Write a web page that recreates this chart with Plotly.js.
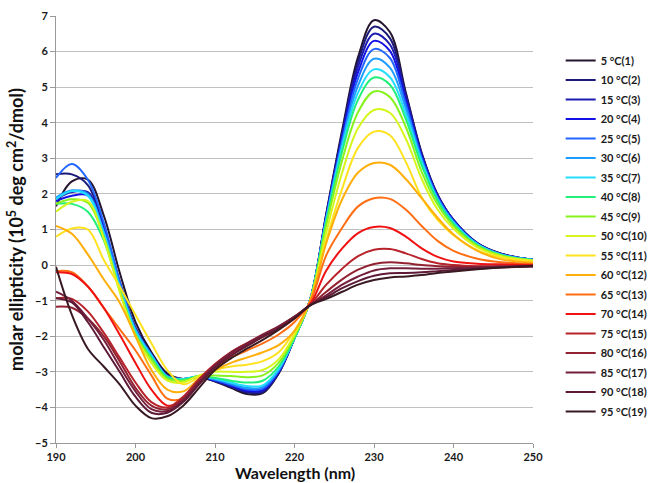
<!DOCTYPE html>
<html>
<head>
<meta charset="utf-8">
<script src="https://cdn.plot.ly/plotly-3.0.1.min.js"></script>
<style>html,body{margin:0;padding:0;background:#fff}#chart{width:650px;height:483px}</style>
</head>
<body>
<div id="chart"></div>
<script>
// Wavelength grid (nm)
var wavelength = [190,192,194,196,198,200,202,204,206,208,210,212,214,216,218,220,222,224,226,228,230,232,234,236,238,240,243,246,250];

// Molar ellipticity (10^5 deg cm^2/dmol) per temperature
var t05 = [1.65,2.35,2.4,1.4,-0.2,-1.6,-2.45,-3.05,-3.2,-3.15,-3.27,-3.45,-3.62,-3.6,-3.05,-2.05,-0.95,1.45,3.8,5.85,6.88,6.55,4.85,3.15,1.98,1.27,0.62,0.32,0.15];
var t10 = [2.55,2.55,2.25,1.1,-0.45,-1.75,-2.5,-3.1,-3.2,-3.15,-3.26,-3.42,-3.58,-3.57,-3.03,-2.05,-0.95,1.42,3.72,5.72,6.7,6.38,4.8,3.13,1.97,1.27,0.62,0.32,0.15];
var t15 = [1.85,2.05,2.05,1.05,-0.5,-1.8,-2.52,-3.12,-3.2,-3.14,-3.25,-3.4,-3.55,-3.54,-3.02,-2.05,-0.95,1.4,3.65,5.58,6.5,6.2,4.72,3.1,1.95,1.26,0.61,0.31,0.15];
var t20 = [1.8,1.95,1.95,1.0,-0.5,-1.8,-2.52,-3.12,-3.2,-3.14,-3.24,-3.38,-3.52,-3.5,-3.0,-2.05,-0.95,1.37,3.57,5.42,6.3,6.02,4.62,3.05,1.93,1.25,0.6,0.3,0.15];
var t25 = [2.45,2.84,2.4,1.2,-0.45,-1.8,-2.52,-3.12,-3.2,-3.14,-3.23,-3.36,-3.49,-3.47,-2.98,-2.05,-0.95,1.33,3.5,5.25,6.07,5.82,4.52,3.0,1.9,1.23,0.6,0.3,0.15];
var t30 = [1.9,2.1,2.0,0.95,-0.55,-1.82,-2.53,-3.13,-3.2,-3.13,-3.21,-3.33,-3.45,-3.43,-2.95,-2.05,-0.95,1.3,3.42,5.05,5.8,5.55,4.4,2.95,1.87,1.21,0.59,0.3,0.15];
var t35 = [1.85,2.08,1.95,0.9,-0.6,-1.85,-2.55,-3.14,-3.2,-3.12,-3.19,-3.3,-3.4,-3.38,-2.92,-2.05,-0.95,1.27,3.33,4.85,5.5,5.28,4.25,2.9,1.84,1.19,0.58,0.29,0.14];
var t40 = [1.72,1.72,1.5,0.7,-0.7,-1.95,-2.6,-3.15,-3.22,-3.12,-3.17,-3.25,-3.3,-3.25,-2.85,-2.05,-0.96,1.22,3.2,4.65,5.27,5.07,4.1,2.8,1.8,1.16,0.56,0.28,0.14];
var t45 = [1.72,1.85,1.75,0.8,-0.7,-1.95,-2.65,-3.2,-3.25,-3.12,-3.1,-3.12,-3.15,-3.1,-2.75,-2.0,-0.97,1.12,2.95,4.3,4.88,4.72,3.88,2.62,1.7,1.1,0.54,0.27,0.13];
var t50 = [1.5,1.78,1.8,0.75,-0.75,-2.0,-2.75,-3.25,-3.3,-3.1,-3.0,-3.0,-3.0,-2.95,-2.65,-1.95,-0.98,0.92,2.6,3.85,4.36,4.28,3.55,2.42,1.56,1.02,0.5,0.25,0.12];
var t55 = [0.8,1.03,1.0,0.15,-0.6,-1.4,-2.2,-2.95,-3.35,-3.15,-2.95,-2.85,-2.8,-2.7,-2.45,-1.85,-1.0,0.7,2.15,3.3,3.75,3.65,2.9,1.9,1.27,0.84,0.42,0.21,0.1];
var t60 = [1.1,0.88,0.3,-0.4,-1.05,-2.0,-2.95,-3.5,-3.55,-3.2,-2.95,-2.75,-2.6,-2.45,-2.25,-1.85,-0.98,0.62,1.85,2.6,2.87,2.82,2.42,1.88,1.33,0.86,0.4,0.16,0.07];
var t65 = [-0.17,-0.2,-0.6,-1.2,-1.8,-2.4,-3.1,-3.75,-3.75,-3.3,-2.9,-2.6,-2.4,-2.2,-1.95,-1.6,-1.02,0.28,1.05,1.65,1.88,1.86,1.56,1.1,0.68,0.4,0.18,0.08,0.03];
var t70 = [-0.2,-0.25,-0.6,-1.2,-1.95,-2.75,-3.5,-3.95,-3.8,-3.3,-2.85,-2.5,-2.25,-2.02,-1.8,-1.5,-1.08,-0.15,0.47,0.9,1.07,1.04,0.8,0.47,0.23,0.1,0.04,0.02,0.0];
var t75 = [-0.93,-0.95,-1.3,-1.9,-2.6,-3.3,-3.85,-4.0,-3.7,-3.2,-2.78,-2.45,-2.2,-1.97,-1.75,-1.45,-1.1,-0.55,-0.1,0.25,0.43,0.45,0.33,0.17,0.05,0.0,-0.03,-0.03,-0.02];
var t80 = [-1.17,-1.2,-1.5,-2.0,-2.7,-3.45,-3.95,-4.05,-3.75,-3.25,-2.8,-2.45,-2.2,-1.95,-1.72,-1.45,-1.12,-0.75,-0.4,-0.13,0.03,0.08,0.05,0.0,-0.03,-0.05,-0.05,-0.04,-0.03];
var t85 = [-0.75,-1.0,-1.5,-2.1,-2.85,-3.55,-4.05,-4.1,-3.8,-3.3,-2.82,-2.48,-2.22,-1.97,-1.73,-1.45,-1.12,-0.85,-0.55,-0.32,-0.15,-0.09,-0.09,-0.1,-0.1,-0.09,-0.07,-0.05,-0.03];
var t90 = [-0.93,-1.05,-1.6,-2.3,-3.0,-3.7,-4.15,-4.15,-3.85,-3.35,-2.88,-2.55,-2.28,-2.02,-1.78,-1.48,-1.12,-0.9,-0.65,-0.45,-0.3,-0.23,-0.22,-0.2,-0.17,-0.14,-0.1,-0.07,-0.04];
var t95 = [-0.05,-1.4,-2.35,-2.85,-3.35,-3.95,-4.3,-4.25,-3.95,-3.45,-2.95,-2.62,-2.35,-2.1,-1.82,-1.5,-1.13,-0.95,-0.75,-0.55,-0.42,-0.35,-0.32,-0.28,-0.22,-0.18,-0.12,-0.07,-0.02];

var seriesNames = ["5 °C(1)","10 °C(2)","15 °C(3)","20 °C(4)","25 °C(5)","30 °C(6)","35 °C(7)","40 °C(8)","45 °C(9)","50 °C(10)","55 °C(11)","60 °C(12)","65 °C(13)","70 °C(14)","75 °C(15)","80 °C(16)","85 °C(17)","90 °C(18)","95 °C(19)"];
var seriesValues = [t05,t10,t15,t20,t25,t30,t35,t40,t45,t50,t55,t60,t65,t70,t75,t80,t85,t90,t95];
var xTitle = 'Wavelength (nm)';
var yTitle = 'molar ellipticity (10<sup>5</sup> deg cm<sup>2</sup>/dmol)';

var colors = ["#24142e","#1c1a78","#1d1bb0","#1212e6","#2266ff","#1e9cff","#22ddff","#20f07a","#86f21e","#d6f51c","#ffe21e","#ffae0a","#ff6e12","#f01212","#b8222a","#922232","#74203c","#5e1a36","#3a1a22"];

var traces = seriesValues.map(function(v,i){
  return {x: wavelength, y: v, name: seriesNames[i], legendgroup: 'g' + i, type: 'scatter', mode: 'lines',
          line: {color: colors[i], width: 2, shape: 'spline', smoothing: 1}};
});

var layout = {
  width: 650, height: 483,
  margin: {l: 56, r: 117, t: 16, b: 40, autoexpand: false},
  paper_bgcolor: '#ffffff', plot_bgcolor: '#ffffff',
  font: {family: 'Lato, "Open Sans", sans-serif', color: '#1a1a1a'},
  showlegend: true,
  legend: {x: 1.058, y: 0.93, xanchor: 'left', yanchor: 'top', itemwidth: 30, tracegroupgap: 0.5,
           font: {size: 11, weight: 'bold', color: '#1a1a1a'}, bgcolor: 'rgba(0,0,0,0)'},
  xaxis: {range: [190, 250], dtick: 10, tick0: 190, showgrid: false, zeroline: false, automargin: false,
          showline: true, linecolor: '#9a9a9a', linewidth: 1, ticks: 'outside', ticklen: 4, tickcolor: '#9a9a9a',
          tickfont: {size: 11, weight: 'bold', color: '#1a1a1a'}},
  yaxis: {range: [-5, 7], dtick: 1, showgrid: true, gridcolor: '#c0c0c0', gridwidth: 1, zeroline: false, automargin: false,
          showline: true, linecolor: '#9a9a9a', linewidth: 1, ticks: 'outside', ticklen: 5, tickcolor: '#9a9a9a',
          tickfont: {size: 11, weight: 'bold', color: '#1a1a1a'},
          title: {text: yTitle, font: {size: 18, weight: 'bold', color: '#111'}, standoff: 6}},
  annotations: [{text: xTitle, xref: 'paper', yref: 'paper', x: 0.5, y: 0, xanchor: 'center', yanchor: 'top',
                 yshift: -19, borderpad: 0, showarrow: false, font: {size: 16, weight: 'bold', color: '#111'}}]
};

Plotly.newPlot('chart', traces, layout, {displayModeBar: false, staticPlot: true});
</script>
</body>
</html>
